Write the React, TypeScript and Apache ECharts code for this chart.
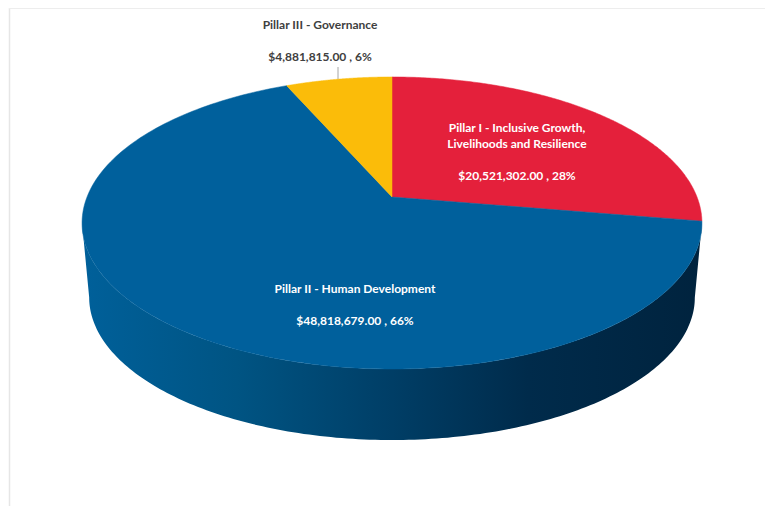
import React, { useEffect, useRef } from "react";
import * as echarts from "echarts";

// Programme funding by pillar, clockwise from twelve o'clock.
const pillarValues = [20521302, 48818679, 4881815];
const pillarShares = [28, 66, 6];
const pillarNames = [
  ["Pillar I - Inclusive Growth,", "Livelihoods and Resilience"],
  ["Pillar II - Human Development"],
  ["Pillar III - Governance"],
];
const pillarColors = ["#E4203B", "#00609C", "#FBBC09"];
const labelColors = ["#FFFFFF", "#FFFFFF", "#404040"];
const labelCentres = [
  [517, 127],
  [355, 288],
  [320, 24],
];
const wallStops = [
  [0, "#00609A"],
  [0.25, "#005483"],
  [0.5, "#003E66"],
  [0.72, "#002B4B"],
  [1, "#00233E"],
];

// Perspective tilt of the disc: far side shrinks, near side grows.
const CX = 392;
const CY = 197;
const RX = 305;
const RY = 141.4;
const TILT = 0.178;
const DEPTH = 75;
const BASE_SCALE = 0.977;
const FRONT_START = Math.PI / 2 + Math.asin(TILT);
const FRONT_END = (3 * Math.PI) / 2 - Math.asin(TILT);
const STEPS = 180;
const LINE_STEP = 16;

const total = pillarValues.reduce((sum, v) => sum + v, 0);

function project(theta: number, scale = 1, drop = 0): number[] {
  const u = Math.sin(theta);
  const v = Math.cos(theta);
  const w = 1 + TILT * v;
  return [CX + (scale * RX * u) / w, CY + drop - (scale * RY * v) / w];
}

function arc(from: number, to: number, scale = 1, drop = 0): number[][] {
  const pts: number[][] = [];
  for (let i = 0; i <= STEPS; i++) {
    pts.push(project(from + ((to - from) * i) / STEPS, scale, drop));
  }
  return pts;
}

function formatLabel(value: number, share: number): string {
  const money = value.toLocaleString("en-US", {
    minimumFractionDigits: 2,
    maximumFractionDigits: 2,
  });
  return `$${money} , ${share}%`;
}

function renderSlice(params: any, api: any) {
  const i = params.dataIndex;
  const value = api.value(0);
  let before = 0;
  for (let k = 0; k < i; k++) before += pillarValues[k];
  const start = (before / total) * 2 * Math.PI;
  const end = ((before + value) / total) * 2 * Math.PI;
  const children: any[] = [];

  // Side wall: only the part of the rim facing the viewer. The arc runs
  // right to left, and the shading runs the other way across the page.
  const wallStart = Math.max(start, FRONT_START);
  const wallEnd = Math.min(end, FRONT_END);
  if (wallEnd > wallStart) {
    const top = arc(wallStart, wallEnd);
    const base = arc(wallStart, wallEnd, BASE_SCALE, DEPTH).reverse();
    children.push({
      type: "polygon",
      shape: { points: top.concat(base) },
      style: {
        fill: new echarts.graphic.LinearGradient(
          0,
          0,
          1,
          0,
          wallStops.map(([offset, color]) => ({ offset, color })) as any
        ),
      },
    });
  }

  // Top face of the slice.
  children.push({
    type: "polygon",
    shape: { points: [[CX, CY], ...arc(start, end)] },
    style: { fill: pillarColors[i], stroke: pillarColors[i], lineWidth: 0.5 },
  });

  // Label: name lines, a blank line, then amount and share.
  const [lx, ly] = labelCentres[i];
  const lines = [...pillarNames[i], "", formatLabel(value, pillarShares[i])];
  lines.forEach((text, n) => {
    if (!text) return;
    children.push({
      type: "text",
      style: {
        text,
        x: lx,
        y: ly + n * LINE_STEP,
        align: "center",
        verticalAlign: "middle",
        fill: labelColors[i],
        fontFamily: "Lato",
        fontWeight: "bold",
        fontSize: 12,
      },
      z2: 10,
    });
  });

  return { type: "group", children };
}

export default function App() {
  const ref = useRef<HTMLDivElement>(null);
  useEffect(() => {
    const chart = echarts.init(ref.current!, null, { renderer: "svg" });
    chart.setOption({
      animation: false,
      backgroundColor: "#FFFFFF",
      graphic: [
        { type: "line", shape: { x1: 9.5, y1: 8, x2: 9.5, y2: 506 }, style: { stroke: "#E6E6E6", lineWidth: 1.5 } },
        { type: "line", shape: { x1: 9, y1: 8.5, x2: 765, y2: 8.5 }, style: { stroke: "#EDEDED", lineWidth: 1 } },
        { type: "line", shape: { x1: 338, y1: 67, x2: 338, y2: 81 }, style: { stroke: "#A6A6A6", lineWidth: 1 } },
      ],
      series: [
        {
          type: "custom",
          coordinateSystem: "none",
          silent: true,
          data: pillarValues.map((v) => [v]),
          renderItem: renderSlice,
        },
      ],
    });
    return () => chart.dispose();
  }, []);
  return (
    <div
      ref={ref}
      style={{ position: "absolute", left: 0, top: 0, width: 765, height: 506 }}
    />
  );
}
